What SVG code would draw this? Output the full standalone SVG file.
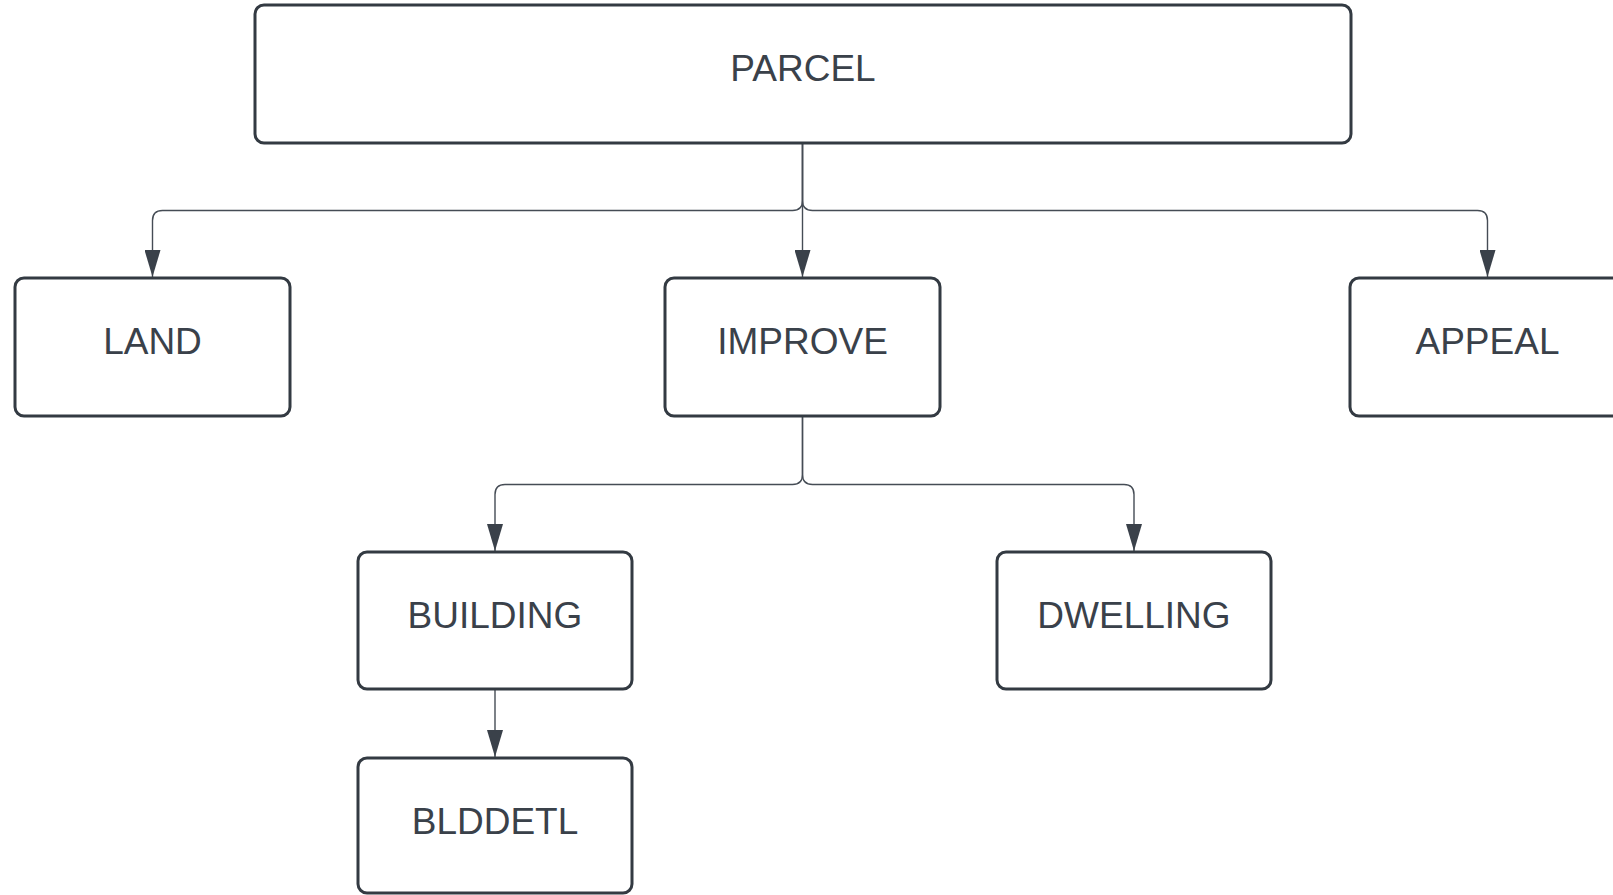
<svg xmlns="http://www.w3.org/2000/svg" width="1613" height="895" viewBox="0 0 1613 895">
<defs>
<style>
.box{fill:#ffffff;stroke:#333a42;stroke-width:3}
.lbl{font-family:"Liberation Sans",Arial,sans-serif;font-size:37px;fill:#3a414a;text-anchor:middle}
.con{fill:none;stroke:#454c55;stroke-width:1.4}
</style>
<marker id="arr" markerUnits="userSpaceOnUse" viewBox="0 0 27 16" refX="27" refY="8" markerWidth="27" markerHeight="16" orient="auto">
<path d="M0,0 L27,8 L0,16 Z" fill="#3a414a"/>
</marker>
</defs>
<rect width="1613" height="895" fill="#ffffff"/>
<g id="connectors">
<path class="con" d="M802.5,143 V200.5 Q802.5,210.5 792.5,210.5 H162.5 Q152.5,210.5 152.5,220.5 V277" marker-end="url(#arr)"/>
<path class="con" d="M802.5,143 V277" marker-end="url(#arr)"/>
<path class="con" d="M802.5,143 V200.5 Q802.5,210.5 812.5,210.5 H1477.5 Q1487.5,210.5 1487.5,220.5 V277" marker-end="url(#arr)"/>
<path class="con" d="M802.5,416 V474.5 Q802.5,484.5 792.5,484.5 H505 Q495,484.5 495,494.5 V551" marker-end="url(#arr)"/>
<path class="con" d="M802.5,416 V474.5 Q802.5,484.5 812.5,484.5 H1124 Q1134,484.5 1134,494.5 V551" marker-end="url(#arr)"/>
<path class="con" d="M495,689 V757" marker-end="url(#arr)"/>
</g>
<g id="node-parcel">
<rect class="box" x="255" y="5" width="1096" height="138" rx="9"/>
<text class="lbl" x="803" y="81">PARCEL</text>
</g>
<g id="node-land">
<rect class="box" x="15" y="278" width="275" height="138" rx="9"/>
<text class="lbl" x="152.5" y="354">LAND</text>
</g>
<g id="node-improve">
<rect class="box" x="665" y="278" width="275" height="138" rx="9"/>
<text class="lbl" x="802.5" y="354">IMPROVE</text>
</g>
<g id="node-appeal">
<rect class="box" x="1350" y="278" width="275" height="138" rx="9"/>
<text class="lbl" x="1487.5" y="354">APPEAL</text>
</g>
<g id="node-building">
<rect class="box" x="358" y="552" width="274" height="137" rx="9"/>
<text class="lbl" x="495" y="628">BUILDING</text>
</g>
<g id="node-dwelling">
<rect class="box" x="997" y="552" width="274" height="137" rx="9"/>
<text class="lbl" x="1134" y="628">DWELLING</text>
</g>
<g id="node-blddetl">
<rect class="box" x="358" y="758" width="274" height="135" rx="9"/>
<text class="lbl" x="495" y="834">BLDDETL</text>
</g>
</svg>
